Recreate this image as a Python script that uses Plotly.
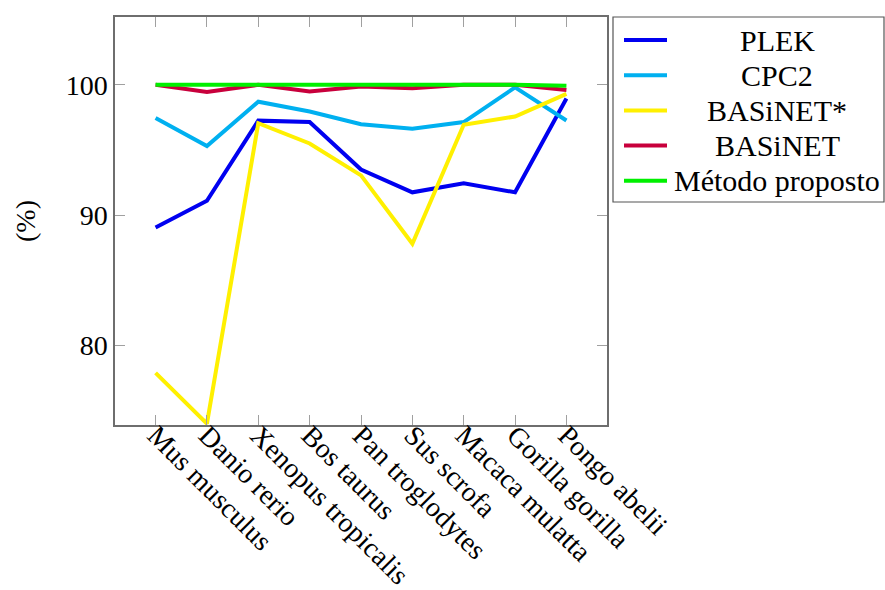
import plotly.graph_objects as go

# Species evaluated
species = ["Mus musculus", "Danio rerio", "Xenopus tropicalis", "Bos taurus",
           "Pan troglodytes", "Sus scrofa", "Macaca mulatta", "Gorilla gorilla",
           "Pongo abelii"]

# Scores (%) per method
plek = [89.05, 91.1, 97.25, 97.15, 93.5, 91.75, 92.45, 91.75, 98.95]
cpc2 = [97.45, 95.3, 98.7, 97.95, 96.98, 96.62, 97.14, 99.8, 97.26]
basinet_star = [77.9, 74.0, 97.05, 95.5, 93.05, 87.8, 96.93, 97.57, 99.3]
basinet = [100.0, 99.44, 100.0, 99.48, 99.87, 99.74, 100.0, 100.0, 99.6]
proposto = [100.0, 100.0, 100.0, 100.0, 100.0, 100.0, 100.0, 100.0, 99.92]

series = [
    ("PLEK", plek, "#0000f0"),
    ("CPC2", cpc2, "#00b0f0"),
    ("BASiNET*", basinet_star, "#fff000"),
    ("BASiNET", basinet, "#c8003c"),
    ("Método proposto", proposto, "#00f000"),
]

FONT = "Liberation Serif"
W, H = 885, 590
L, R, T, B = 115, 607, 17, 425  # plot box in pixels

fig = go.Figure()
for name, vals, color in series:
    fig.add_trace(go.Scatter(x=species, y=vals, mode="lines", name=name,
                             line=dict(color=color, width=4),
                             showlegend=False, cliponaxis=True))

def px_x(x):
    return (x - L) / (R - L)

def px_y(y):
    return (B - y) / (B - T)

# Legend box drawn with shapes and centred labels
shapes = [dict(type="rect", xref="paper", yref="paper",
               x0=px_x(613), x1=px_x(884), y0=px_y(202), y1=px_y(17),
               line=dict(color="#555555", width=1.2), fillcolor="white",
               layer="above")]
annotations = []
for i, (name, vals, color) in enumerate(series):
    yc = 40 + i * 35.2
    shapes.append(dict(type="line", xref="paper", yref="paper",
                       x0=px_x(624), x1=px_x(667), y0=px_y(yc), y1=px_y(yc),
                       line=dict(color=color, width=4), layer="above"))
    annotations.append(dict(x=px_x(777), y=px_y(yc), xref="paper", yref="paper",
                            text=name, showarrow=False, xanchor="center",
                            yanchor="middle",
                            font=dict(family=FONT, size=30, color="black")))

axis_common = dict(showline=True, linecolor="#6e6e6e", linewidth=1.5,
                   mirror="allticks", ticks="inside", ticklen=10,
                   tickcolor="#a0a0a0", tickwidth=1.2, showgrid=False,
                   zeroline=False, automargin=False)

fig.update_layout(
    width=W, height=H, autosize=False,
    margin=dict(l=L, r=W - R, t=T, b=H - B),
    paper_bgcolor="white", plot_bgcolor="white",
    xaxis=dict(**axis_common, range=[-0.79, 8.79], tickangle=45,
               type="category", ticklabelstandoff=-19,
               tickfont=dict(family=FONT, size=28, color="black")),
    yaxis=dict(**axis_common, range=[73.9, 105.2], tickvals=[80, 90, 100],
               tickfont=dict(family=FONT, size=28, color="black"),
               title=dict(text="(%)", font=dict(family=FONT, size=28,
                                                color="black"), standoff=22)),
    shapes=shapes,
    annotations=annotations,
    showlegend=False,
)

fig.write_html("out.html")
